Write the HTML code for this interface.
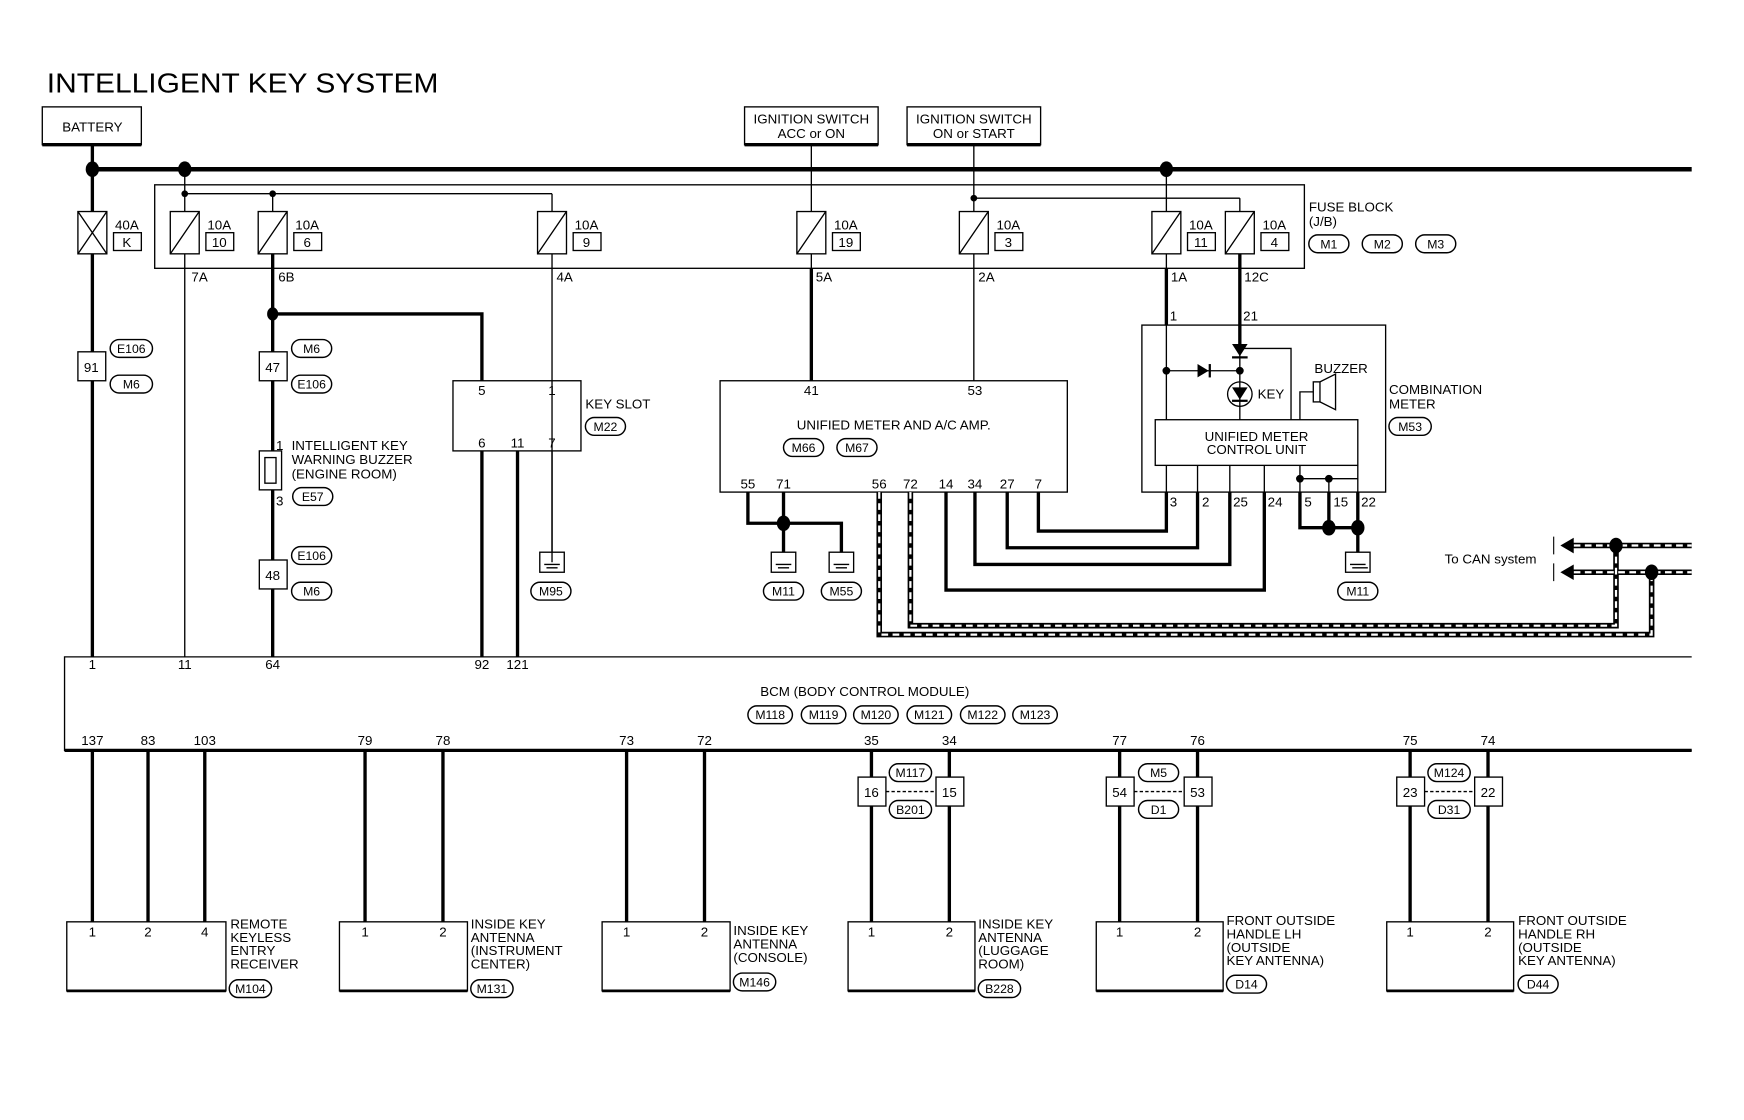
<!DOCTYPE html>
<html><head><meta charset="utf-8"><style>
html,body{margin:0;padding:0;background:#fff}
svg{display:block}
text{font-family:"Liberation Sans",sans-serif;fill:#000}
</style></head><body>
<svg width="1744" height="1120" viewBox="0 0 1567 1006" preserveAspectRatio="none" xmlns="http://www.w3.org/2000/svg">
<g stroke="#000" fill="none" stroke-width="1.2">
<rect x="38" y="96" width="89" height="34"/><line x1="38" y1="130" x2="127" y2="130" stroke-width="3"/>
<rect x="669" y="96" width="120" height="34"/><line x1="669" y1="130" x2="789" y2="130" stroke-width="3"/>
<rect x="815" y="96" width="120" height="34"/><line x1="815" y1="130" x2="935" y2="130" stroke-width="3"/>
<line x1="83" y1="152" x2="1520" y2="152" stroke-width="4"/>
<line x1="83" y1="130" x2="83" y2="590" stroke-width="3"/>
<rect x="139" y="166" width="1033" height="75"/>
<line x1="166" y1="152" x2="166" y2="590"/>
<line x1="166" y1="174" x2="496" y2="174"/>
<line x1="245" y1="174" x2="245" y2="190"/>
<line x1="496" y1="174" x2="496" y2="505"/>
<line x1="729" y1="130" x2="729" y2="241"/>
<line x1="729" y1="241" x2="729" y2="342" stroke-width="3"/>
<line x1="875" y1="130" x2="875" y2="342"/>
<line x1="875" y1="178" x2="1114" y2="178"/>
<line x1="1114" y1="178" x2="1114" y2="190"/>
<line x1="1048" y1="152" x2="1048" y2="241"/>
<line x1="1048" y1="241" x2="1048" y2="292" stroke-width="3"/>
<line x1="1114" y1="228" x2="1114" y2="313" stroke-width="3"/>
<line x1="245" y1="228" x2="245" y2="590" stroke-width="3"/>
<polyline points="245,282 433,282 433,342" stroke-width="3"/>
<g fill="#fff">
<rect x="70" y="190" width="26" height="38"/>
<rect x="153" y="190" width="26" height="38"/>
<rect x="232" y="190" width="26" height="38"/>
<rect x="483" y="190" width="26" height="38"/>
<rect x="716" y="190" width="26" height="38"/>
<rect x="862" y="190" width="26" height="38"/>
<rect x="1035" y="190" width="26" height="38"/>
<rect x="1101" y="190" width="26" height="38"/>
</g>
<path d="M70,190L96,228M96,190L70,228M153,228L179,190M232,228L258,190M483,228L509,190M716,228L742,190M862,228L888,190M1035,228L1061,190M1101,228L1127,190"/>
<rect x="102" y="209" width="25" height="16"/><rect x="185" y="209" width="25" height="16"/><rect x="264" y="209" width="25" height="16"/><rect x="515" y="209" width="25" height="16"/><rect x="748" y="209" width="25" height="16"/><rect x="894" y="209" width="25" height="16"/><rect x="1067" y="209" width="25" height="16"/><rect x="1133" y="209" width="25" height="16"/>
<rect x="70" y="316" width="25" height="26" fill="#fff"/>
<rect x="233" y="316" width="25" height="26" fill="#fff"/>
<rect x="233" y="503" width="25" height="26" fill="#fff"/>
<rect x="233" y="405" width="20" height="35" fill="#fff"/><rect x="238" y="411" width="10" height="23"/>
<rect x="407" y="342" width="115" height="63"/>
<line x1="433" y1="405" x2="433" y2="590" stroke-width="3"/>
<line x1="465" y1="405" x2="465" y2="590" stroke-width="3"/>
<line x1="496" y1="405" x2="496" y2="496"/>
<rect x="647" y="342" width="312" height="100"/>
<polyline points="672,442 672,470 756,470 756,496" stroke-width="3"/>
<line x1="704" y1="442" x2="704" y2="496" stroke-width="3"/>
<polyline points="933,442 933,477 1048,477 1048,442" stroke-width="3"/>
<polyline points="905,442 905,492 1076,492 1076,442" stroke-width="3"/>
<polyline points="876,442 876,507 1105,507 1105,442" stroke-width="3"/>
<polyline points="850,442 850,530 1136,530 1136,442" stroke-width="3"/>
<rect x="1026" y="292" width="219" height="150"/>
<line x1="1048" y1="292" x2="1048" y2="442"/>
<line x1="1076" y1="418" x2="1076" y2="442"/><line x1="1105" y1="418" x2="1105" y2="442"/><line x1="1136" y1="418" x2="1136" y2="442"/>
<line x1="1168" y1="418" x2="1168" y2="442"/><line x1="1194" y1="430" x2="1194" y2="442"/><line x1="1220" y1="418" x2="1220" y2="442"/>
<line x1="1168" y1="430" x2="1220" y2="430"/>
<polyline points="1168,442 1168,474 1220,474" stroke-width="3"/>
<line x1="1194" y1="442" x2="1194" y2="474" stroke-width="3"/>
<line x1="1220" y1="442" x2="1220" y2="496" stroke-width="3"/>
<line x1="1114" y1="313" x2="1114" y2="377"/>
<polyline points="1114,313 1160,313 1160,377"/>
<line x1="1048" y1="333" x2="1114" y2="333"/>
<circle cx="1114" cy="354" r="11"/>
<polyline points="1168,377 1168,352 1180,352"/>
<rect x="1180" y="343" width="6" height="18"/>
<path d="M1186,343L1200,336V368L1186,361"/>
<rect x="1038" y="377" width="182" height="41" fill="#fff"/>
<g>
<rect x="485" y="496" width="22" height="18"/><rect x="693" y="496" width="22" height="18"/><rect x="745" y="496" width="22" height="18"/><rect x="1209" y="496" width="22" height="18"/>
<path d="M489,507H503M491,510H501M697,507H711M699,510H709M749,507H763M751,510H761M1213,507H1227M1215,510H1229"/>
</g>
<g stroke-width="5"><polyline points="790,442 790,570 1484,570 1484,514 1520,514"/><polyline points="818,442 818,562 1452,562 1452,490 1520,490"/>
<line x1="1412" y1="490" x2="1452" y2="490"/><line x1="1412" y1="514" x2="1484" y2="514"/></g>
<g stroke="#fff" stroke-width="2" stroke-dasharray="6 4"><polyline points="790,442 790,570 1484,570 1484,514 1520,514"/><polyline points="818,442 818,562 1452,562 1452,490 1520,490"/>
<line x1="1414" y1="490" x2="1452" y2="490"/><line x1="1414" y1="514" x2="1484" y2="514"/></g>
<path d="M1396,482 1396,498 M1396,506 1396,522" stroke-width="1"/>
<polyline points="1520,590 58,590 58,674 1520,674"/>
<line x1="58" y1="674" x2="1520" y2="674" stroke-width="3"/>
<g stroke-width="3">
<path d="M83,674V828M133,674V828M184,674V828M328,674V828M398,674V828M563,674V828M633,674V828M783,674V828M853,674V828M1006,674V828M1076,674V828M1267,674V828M1337,674V828"/>
</g>
<g fill="#fff"><rect x="771" y="698" width="25" height="26"/><rect x="841" y="698" width="25" height="26"/><rect x="994" y="698" width="25" height="26"/><rect x="1064" y="698" width="25" height="26"/><rect x="1255" y="698" width="25" height="26"/><rect x="1325" y="698" width="25" height="26"/></g>
<path d="M796,711H841M1019,711H1064M1280,711H1325" stroke-dasharray="3 2"/>
<rect x="60" y="828" width="143" height="62"/><rect x="305" y="828" width="115" height="62"/><rect x="541" y="828" width="115" height="62"/><rect x="762" y="828" width="114" height="62"/><rect x="985" y="828" width="114" height="62"/><rect x="1246" y="828" width="114" height="62"/>
<path d="M60,890H203M305,890H420M541,890H656M762,890H876M985,890H1099M1246,890H1360" stroke-width="2.5"/>
</g>
<g fill="#000">
<ellipse cx="83" cy="152" rx="6" ry="7"/><ellipse cx="166" cy="152" rx="6" ry="7"/><ellipse cx="1048" cy="152" rx="6" ry="7"/>
<circle cx="166" cy="174" r="3"/><circle cx="245" cy="174" r="3"/><circle cx="875" cy="178" r="3"/>
<ellipse cx="245" cy="282" rx="5" ry="6"/><ellipse cx="704" cy="470" rx="6" ry="7"/>
<circle cx="1114" cy="313" r="3.5"/><circle cx="1114" cy="333" r="3.5"/><circle cx="1048" cy="333" r="3.5"/>
<circle cx="1168" cy="430" r="3.5"/><circle cx="1194" cy="430" r="3.5"/>
<ellipse cx="1194" cy="474" rx="6" ry="7"/><ellipse cx="1220" cy="474" rx="6" ry="7"/>
<ellipse cx="1452" cy="490" rx="6" ry="7"/><ellipse cx="1484" cy="514" rx="6" ry="7"/>
<path d="M1107,309H1121L1114,320Z"/><rect x="1107" y="320" width="14" height="2"/>
<path d="M1076,327V339L1086,333Z"/><rect x="1086" y="327" width="2" height="12"/>
<path d="M1107,348H1121L1114,359Z"/><rect x="1107" y="359" width="14" height="2"/>
<path d="M1402,490L1414,483V497Z"/><path d="M1402,514L1414,507V521Z"/>
</g>
<text x="42" y="83" font-size="25" textLength="352" lengthAdjust="spacingAndGlyphs">INTELLIGENT KEY SYSTEM</text>
<g font-size="12" text-anchor="middle">
<text x="83" y="118">BATTERY</text>
<text x="729" y="111">IGNITION SWITCH</text><text x="729" y="124">ACC or ON</text>
<text x="875" y="111">IGNITION SWITCH</text><text x="875" y="124">ON or START</text>
<text x="114" y="206">40A</text><text x="114" y="222">K</text>
<text x="197" y="206">10A</text><text x="197" y="222">10</text>
<text x="276" y="206">10A</text><text x="276" y="222">6</text>
<text x="527" y="206">10A</text><text x="527" y="222">9</text>
<text x="760" y="206">10A</text><text x="760" y="222">19</text>
<text x="906" y="206">10A</text><text x="906" y="222">3</text>
<text x="1079" y="206">10A</text><text x="1079" y="222">11</text>
<text x="1145" y="206">10A</text><text x="1145" y="222">4</text>
<text x="82" y="334">91</text><text x="245" y="334">47</text><text x="245" y="521">48</text>
<text x="433" y="355">5</text><text x="496" y="355">1</text>
<text x="433" y="402">6</text><text x="465" y="402">11</text><text x="496" y="402">7</text>
<text x="729" y="355">41</text><text x="876" y="355">53</text>
<text x="803" y="386">UNIFIED METER AND A/C AMP.</text>
<text x="672" y="439">55</text><text x="704" y="439">71</text><text x="790" y="439">56</text><text x="818" y="439">72</text><text x="850" y="439">14</text><text x="876" y="439">34</text><text x="905" y="439">27</text><text x="933" y="439">7</text>
<text x="1129" y="396">UNIFIED METER</text><text x="1129" y="408">CONTROL UNIT</text>
<text x="1205" y="335">BUZZER</text>
<text x="777" y="625">BCM (BODY CONTROL MODULE)</text>
<text x="83" y="601">1</text><text x="166" y="601">11</text><text x="245" y="601">64</text><text x="433" y="601">92</text><text x="465" y="601">121</text>
<text x="83" y="669">137</text><text x="133" y="669">83</text><text x="184" y="669">103</text><text x="328" y="669">79</text><text x="398" y="669">78</text><text x="563" y="669">73</text><text x="633" y="669">72</text><text x="783" y="669">35</text><text x="853" y="669">34</text><text x="1006" y="669">77</text><text x="1076" y="669">76</text><text x="1267" y="669">75</text><text x="1337" y="669">74</text>
<text x="783" y="716">16</text><text x="853" y="716">15</text><text x="1006" y="716">54</text><text x="1076" y="716">53</text><text x="1267" y="716">23</text><text x="1337" y="716">22</text>
<text x="83" y="841">1</text><text x="133" y="841">2</text><text x="184" y="841">4</text>
<text x="328" y="841">1</text><text x="398" y="841">2</text><text x="563" y="841">1</text><text x="633" y="841">2</text>
<text x="783" y="841">1</text><text x="853" y="841">2</text><text x="1006" y="841">1</text><text x="1076" y="841">2</text><text x="1267" y="841">1</text><text x="1337" y="841">2</text>
</g>
<g font-size="12">
<text x="172" y="253">7A</text><text x="250" y="253">6B</text><text x="500" y="253">4A</text><text x="733" y="253">5A</text><text x="879" y="253">2A</text><text x="1052" y="253">1A</text><text x="1118" y="253">12C</text>
<text x="1051" y="288">1</text><text x="1117" y="288">21</text>
<text x="1051" y="455">3</text><text x="1080" y="455">2</text><text x="1108" y="455">25</text><text x="1139" y="455">24</text><text x="1172" y="455">5</text><text x="1198" y="455">15</text><text x="1223" y="455">22</text>
<text x="1130" y="358">KEY</text>
<text x="1176" y="190">FUSE BLOCK</text><text x="1176" y="203">(J/B)</text>
<text x="1248" y="354">COMBINATION</text><text x="1248" y="367">METER</text>
<text x="526" y="367">KEY SLOT</text>
<text x="248" y="404">1</text><text x="262" y="404">INTELLIGENT KEY</text><text x="262" y="417">WARNING BUZZER</text><text x="262" y="430">(ENGINE ROOM)</text><text x="248" y="454">3</text>
<text x="1298" y="506">To CAN system</text>
<text x="207" y="834">REMOTE</text><text x="207" y="846">KEYLESS</text><text x="207" y="858">ENTRY</text><text x="207" y="870">RECEIVER</text>
<text x="423" y="834">INSIDE KEY</text><text x="423" y="846">ANTENNA</text><text x="423" y="858">(INSTRUMENT</text><text x="423" y="870"> CENTER)</text>
<text x="659" y="840">INSIDE KEY</text><text x="659" y="852">ANTENNA</text><text x="659" y="864">(CONSOLE)</text>
<text x="879" y="834">INSIDE KEY</text><text x="879" y="846">ANTENNA</text><text x="879" y="858">(LUGGAGE</text><text x="879" y="870"> ROOM)</text>
<text x="1102" y="831">FRONT OUTSIDE</text><text x="1102" y="843">HANDLE LH</text><text x="1102" y="855">(OUTSIDE</text><text x="1102" y="867"> KEY ANTENNA)</text>
<text x="1364" y="831">FRONT OUTSIDE</text><text x="1364" y="843">HANDLE RH</text><text x="1364" y="855">(OUTSIDE</text><text x="1364" y="867"> KEY ANTENNA)</text>
</g>
<g font-size="11" text-anchor="middle">
<g fill="none" stroke="#000" stroke-width="1.3">
<rect x="99" y="305" width="38" height="16" rx="8"/><rect x="99" y="337" width="38" height="16" rx="8"/>
<rect x="262" y="305" width="36" height="16" rx="8"/><rect x="262" y="337" width="36" height="16" rx="8"/>
<rect x="263" y="438" width="36" height="16" rx="8"/>
<rect x="262" y="491" width="36" height="16" rx="8"/><rect x="262" y="523" width="36" height="16" rx="8"/>
<rect x="526" y="375" width="36" height="16" rx="8"/>
<rect x="704" y="394" width="36" height="16" rx="8"/><rect x="752" y="394" width="36" height="16" rx="8"/>
<rect x="477" y="523" width="36" height="16" rx="8"/><rect x="686" y="523" width="36" height="16" rx="8"/><rect x="738" y="523" width="36" height="16" rx="8"/><rect x="1202" y="523" width="36" height="16" rx="8"/>
<rect x="1176" y="211" width="36" height="16" rx="8"/><rect x="1224" y="211" width="36" height="16" rx="8"/><rect x="1272" y="211" width="36" height="16" rx="8"/>
<rect x="1248" y="375" width="38" height="16" rx="8"/>
<rect x="672" y="634" width="40" height="16" rx="8"/><rect x="720" y="634" width="40" height="16" rx="8"/><rect x="767" y="634" width="40" height="16" rx="8"/><rect x="815" y="634" width="40" height="16" rx="8"/><rect x="863" y="634" width="40" height="16" rx="8"/><rect x="910" y="634" width="40" height="16" rx="8"/>
<rect x="799" y="686" width="38" height="16" rx="8"/><rect x="799" y="719" width="38" height="16" rx="8"/>
<rect x="1023" y="686" width="36" height="16" rx="8"/><rect x="1023" y="719" width="36" height="16" rx="8"/>
<rect x="1283" y="686" width="38" height="16" rx="8"/><rect x="1283" y="719" width="38" height="16" rx="8"/>
<rect x="206" y="880" width="38" height="16" rx="8"/><rect x="423" y="880" width="38" height="16" rx="8"/><rect x="659" y="874" width="38" height="16" rx="8"/><rect x="879" y="880" width="38" height="16" rx="8"/><rect x="1102" y="876" width="36" height="16" rx="8"/><rect x="1364" y="876" width="36" height="16" rx="8"/>
</g>
<text x="118" y="317">E106</text><text x="118" y="349">M6</text>
<text x="280" y="317">M6</text><text x="280" y="349">E106</text><text x="281" y="450">E57</text>
<text x="280" y="503">E106</text><text x="280" y="535">M6</text>
<text x="544" y="387">M22</text><text x="722" y="406">M66</text><text x="770" y="406">M67</text>
<text x="495" y="535">M95</text><text x="704" y="535">M11</text><text x="756" y="535">M55</text><text x="1220" y="535">M11</text>
<text x="1194" y="223">M1</text><text x="1242" y="223">M2</text><text x="1290" y="223">M3</text>
<text x="1267" y="387">M53</text>
<text x="692" y="646">M118</text><text x="740" y="646">M119</text><text x="787" y="646">M120</text><text x="835" y="646">M121</text><text x="883" y="646">M122</text><text x="930" y="646">M123</text>
<text x="818" y="698">M117</text><text x="818" y="731">B201</text><text x="1041" y="698">M5</text><text x="1041" y="731">D1</text><text x="1302" y="698">M124</text><text x="1302" y="731">D31</text>
<text x="225" y="892">M104</text><text x="442" y="892">M131</text><text x="678" y="886">M146</text><text x="898" y="892">B228</text><text x="1120" y="888">D14</text><text x="1382" y="888">D44</text>
</g>
</svg>
</body></html>
